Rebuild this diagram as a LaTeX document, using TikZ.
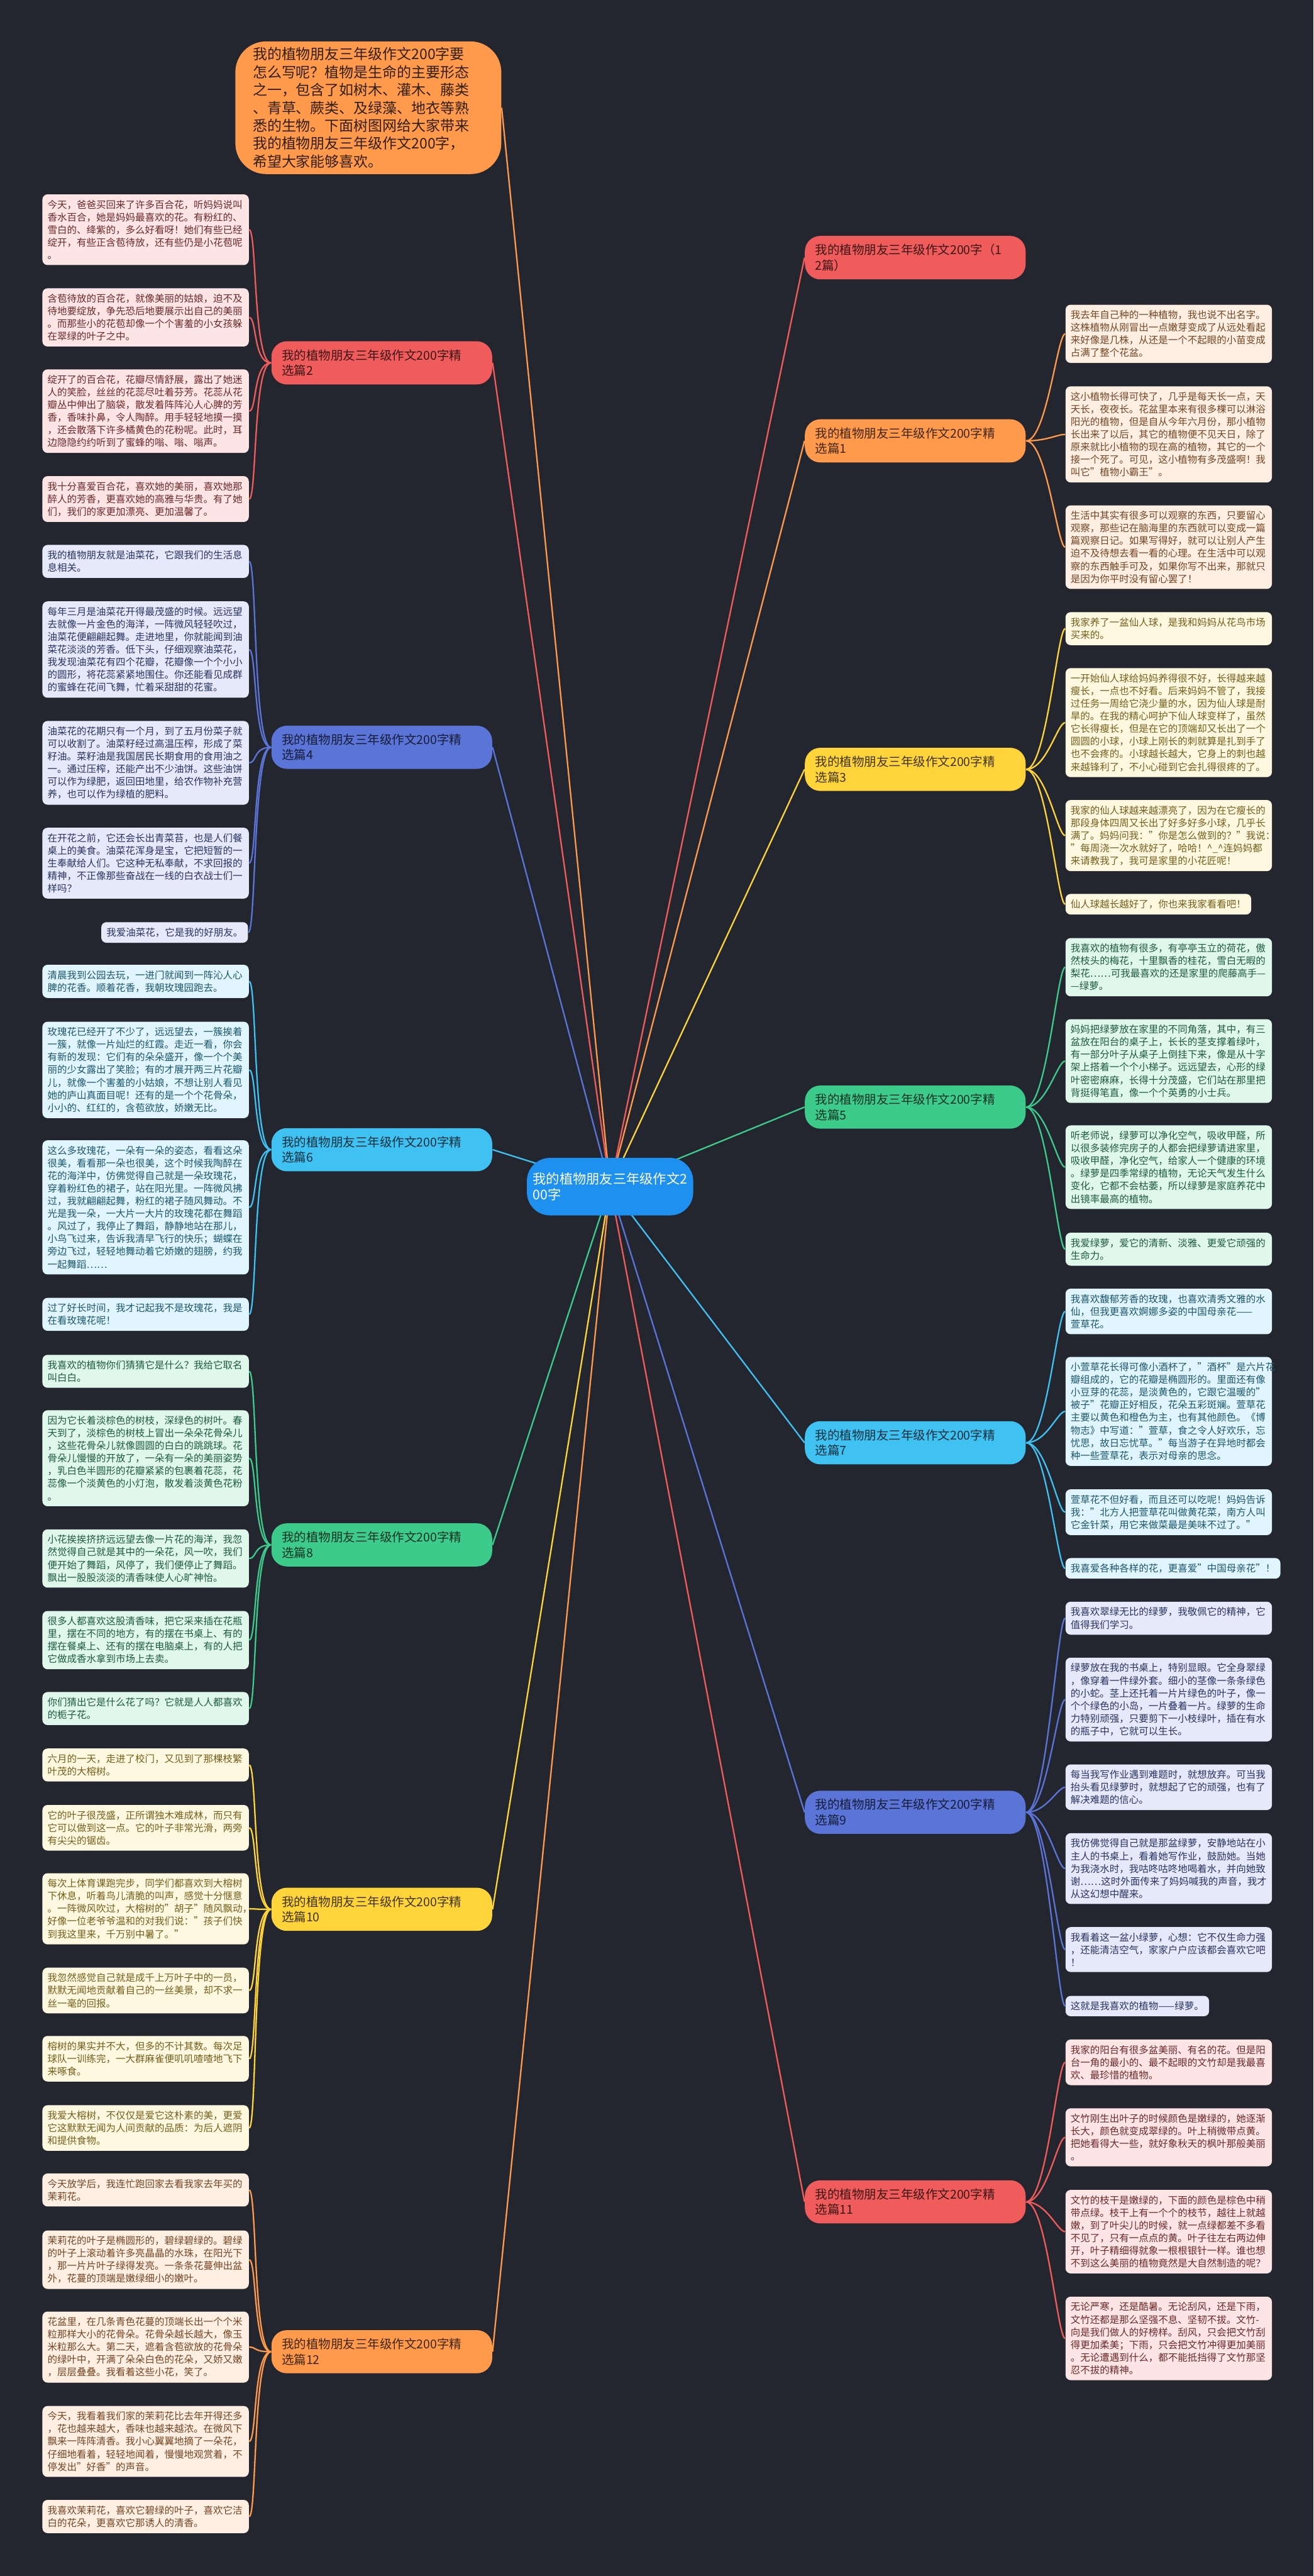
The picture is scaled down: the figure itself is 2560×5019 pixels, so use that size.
\documentclass[tikz,border=0pt]{standalone}
\usepackage{fontspec}
\setmainfont{Noto Sans CJK SC}
\usetikzlibrary{calc}
\pgfdeclarelayer{back}
\pgfsetlayers{back,main}

\definecolor{bgdark}{HTML}{23262F}
\definecolor{cred}{HTML}{F05B5B}
\definecolor{corange}{HTML}{FF9A4D}
\definecolor{cyellow}{HTML}{FFD43B}
\definecolor{cgreen}{HTML}{3DCB8B}
\definecolor{cblue}{HTML}{3FC1F2}
\definecolor{cindigo}{HTML}{5B74D8}
\definecolor{ccenter}{HTML}{1E90F0}

\newcommand\leaffont{\fontsize{5.4pt}{7.0pt}\selectfont}
\newcommand\branchfont{\fontsize{6.8pt}{8.5pt}\selectfont}

\tikzset{
	leaf/.style={fill=#1!16!white, text=#1!45!black, rounded corners=0.1cm,
		inner xsep=0.1cm, inner ysep=0.11cm, align=left, font=\leaffont},
	wide/.style={text width=3.82cm},
	branch/.style={fill=#1, text=#1!25!black, rounded corners=0.3cm,
		inner xsep=0.2cm, inner ysep=0.16cm, text width=3.9cm, align=left, font=\branchfont},
	link/.style={draw=#1, line width=0.8pt},
}

\begin{document}
\begin{tikzpicture}[x=0.01cm, y=-0.01cm]
	\begin{pgfonlayer}{back}
		\fill[bgdark] (0,0) rectangle (2560,5019);
	\end{pgfonlayer}
	\useasboundingbox (0,0) rectangle (2560,5019);

	% centre and intro
	\node[fill=ccenter, text=white, rounded corners=0.45cm, minimum width=3.14cm, minimum height=1.12cm,
		align=left, font=\fontsize{7.4pt}{9pt}\selectfont] (ctr) at (1189,2312) {我的植物朋友三年级作文2\\00字};
	\node[fill=corange, text=corange!20!black, rounded corners=0.6cm, anchor=north west, text width=4.5cm,
		minimum height=2.56cm, inner xsep=0.34cm, align=left, font=\fontsize{8pt}{9.9pt}\selectfont] (intro) at (458,80)
		{我的植物朋友三年级作文200字要\\怎么写呢？植物是生命的主要形态\\之一，包含了如树木、灌木、藤类\\、青草、蕨类、及绿藻、地衣等熟\\悉的生物。下面树图网给大家带来\\我的植物朋友三年级作文200字，\\希望大家能够喜欢。};

	% branches, right side
	\node[branch=cred, anchor=west] (b0) at (1568,502) {我的植物朋友三年级作文200字（1\\2篇）};
	\node[branch=corange, anchor=west] (b1) at (1568,859) {我的植物朋友三年级作文200字精\\选篇1};
	\node[branch=cyellow, anchor=west] (b3) at (1568,1499) {我的植物朋友三年级作文200字精\\选篇3};
	\node[branch=cgreen, anchor=west] (b5) at (1568,2157) {我的植物朋友三年级作文200字精\\选篇5};
	\node[branch=cblue, anchor=west] (b7) at (1568,2811) {我的植物朋友三年级作文200字精\\选篇7};
	\node[branch=cindigo, anchor=west] (b9) at (1568,3531) {我的植物朋友三年级作文200字精\\选篇9};
	\node[branch=cred, anchor=west] (b11) at (1568,4290) {我的植物朋友三年级作文200字精\\选篇11};
	% branches, left side
	\node[branch=cred, anchor=east] (b2) at (960,707) {我的植物朋友三年级作文200字精\\选篇2};
	\node[branch=cindigo, anchor=east] (b4) at (960,1456) {我的植物朋友三年级作文200字精\\选篇4};
	\node[branch=cblue, anchor=east] (b6) at (960,2240) {我的植物朋友三年级作文200字精\\选篇6};
	\node[branch=cgreen, anchor=east] (b8) at (960,3010) {我的植物朋友三年级作文200字精\\选篇8};
	\node[branch=cyellow, anchor=east] (b10) at (960,3720) {我的植物朋友三年级作文200字精\\选篇10};
	\node[branch=corange, anchor=east] (b12) at (960,4582) {我的植物朋友三年级作文200字精\\选篇12};

	% leaves of 2
	\node[leaf=cred, wide, anchor=north west] (l2a) at (82,378) {今天，爸爸买回来了许多百合花，听妈妈说叫\\香水百合，她是妈妈最喜欢的花。有粉红的、\\雪白的、绛紫的，多么好看呀！她们有些已经\\绽开，有些正含苞待放，还有些仍是小花苞呢\\。};
	\node[leaf=cred, wide, anchor=north west] (l2b) at (82,561) {含苞待放的百合花，就像美丽的姑娘，迫不及\\待地要绽放，争先恐后地要展示出自己的美丽\\。而那些小的花苞却像一个个害羞的小女孩躲\\在翠绿的叶子之中。};
	\node[leaf=cred, wide, anchor=north west] (l2c) at (82,719) {绽开了的百合花，花瓣尽情舒展，露出了她迷\\人的笑脸，丝丝的花蕊尽吐着芬芳。花蕊从花\\瓣丛中伸出了脑袋，散发着阵阵沁人心脾的芳\\香，香味扑鼻，令人陶醉。用手轻轻地摸一摸\\，还会散落下许多橘黄色的花粉呢。此时，耳\\边隐隐约约听到了蜜蜂的嗡、嗡、嗡声。};
	\node[leaf=cred, wide, anchor=north west] (l2d) at (82,927) {我十分喜爱百合花，喜欢她的美丽，喜欢她那\\醉人的芳香，更喜欢她的高雅与华贵。有了她\\们，我们的家更加漂亮、更加温馨了。};
	% leaves of 4
	\node[leaf=cindigo, wide, anchor=north west] (l4a) at (82,1061) {我的植物朋友就是油菜花，它跟我们的生活息\\息相关。};
	\node[leaf=cindigo, wide, anchor=north west] (l4b) at (82,1171) {每年三月是油菜花开得最茂盛的时候。远远望\\去就像一片金色的海洋，一阵微风轻轻吹过，\\油菜花便翩翩起舞。走进地里，你就能闻到油\\菜花淡淡的芳香。低下头，仔细观察油菜花，\\我发现油菜花有四个花瓣，花瓣像一个个小小\\的圆形，将花蕊紧紧地围住。你还能看见成群\\的蜜蜂在花间飞舞，忙着采甜甜的花蜜。};
	\node[leaf=cindigo, wide, anchor=north west] (l4c) at (82,1404) {油菜花的花期只有一个月，到了五月份菜子就\\可以收割了。油菜籽经过高温压榨，形成了菜\\籽油。菜籽油是我国居民长期食用的食用油之\\一。通过压榨，还能产出不少油饼。这些油饼\\可以作为绿肥，返回田地里，给农作物补充营\\养，也可以作为绿植的肥料。};
	\node[leaf=cindigo, wide, anchor=north west] (l4d) at (82,1612) {在开花之前，它还会长出青菜苔，也是人们餐\\桌上的美食。油菜花浑身是宝，它把短暂的一\\生奉献给人们。它这种无私奉献，不求回报的\\精神，不正像那些奋战在一线的白衣战士们一\\样吗？};
	\node[leaf=cindigo, anchor=north east] (l4e) at (484,1796) {我爱油菜花，它是我的好朋友。};
	% leaves of 6
	\node[leaf=cblue, wide, anchor=north west] (l6a) at (82,1879) {清晨我到公园去玩，一进门就闻到一阵沁人心\\脾的花香。顺着花香，我朝玫瑰园跑去。};
	\node[leaf=cblue, wide, anchor=north west] (l6b) at (82,1990) {玫瑰花已经开了不少了，远远望去，一簇挨着\\一簇，就像一片灿烂的红霞。走近一看，你会\\有新的发现：它们有的朵朵盛开，像一个个美\\丽的少女露出了笑脸；有的才展开两三片花瓣\\儿，就像一个害羞的小姑娘，不想让别人看见\\她的庐山真面目呢！还有的是一个个花骨朵，\\小小的、红红的，含苞欲放，娇嫩无比。};
	\node[leaf=cblue, wide, anchor=north west] (l6c) at (82,2221) {这么多玫瑰花，一朵有一朵的姿态，看看这朵\\很美，看看那一朵也很美，这个时候我陶醉在\\花的海洋中，仿佛觉得自己就是一朵玫瑰花，\\穿着粉红色的裙子，站在阳光里。一阵微风拂\\过，我就翩翩起舞，粉红的裙子随风舞动。不\\光是我一朵，一大片一大片的玫瑰花都在舞蹈\\。风过了，我停止了舞蹈，静静地站在那儿，\\小鸟飞过来，告诉我清早飞行的快乐；蝴蝶在\\旁边飞过，轻轻地舞动着它娇嫩的翅膀，约我\\一起舞蹈……};
	\node[leaf=cblue, wide, anchor=north west] (l6d) at (82,2528) {过了好长时间，我才记起我不是玫瑰花，我是\\在看玫瑰花呢！};
	% leaves of 8
	\node[leaf=cgreen, wide, anchor=north west] (l8a) at (82,2639) {我喜欢的植物你们猜猜它是什么？我给它取名\\叫白白。};
	\node[leaf=cgreen, wide, anchor=north west] (l8b) at (82,2747) {因为它长着淡棕色的树枝，深绿色的树叶。春\\天到了，淡棕色的树枝上冒出一朵朵花骨朵儿\\，这些花骨朵儿就像圆圆的白白的跳跳球。花\\骨朵儿慢慢的开放了，一朵有一朵的美丽姿势\\，乳白色半圆形的花瓣紧紧的包裹着花蕊，花\\蕊像一个淡黄色的小灯泡，散发着淡黄色花粉\\。};
	\node[leaf=cgreen, wide, anchor=north west] (l8c) at (82,2979) {小花挨挨挤挤远远望去像一片花的海洋，我忽\\然觉得自己就是其中的一朵花，风一吹，我们\\便开始了舞蹈，风停了，我们便停止了舞蹈。\\飘出一股股淡淡的清香味使人心旷神怡。};
	\node[leaf=cgreen, wide, anchor=north west] (l8d) at (82,3138) {很多人都喜欢这股清香味，把它采来插在花瓶\\里，摆在不同的地方，有的摆在书桌上、有的\\摆在餐桌上、还有的摆在电脑桌上，有的人把\\它做成香水拿到市场上去卖。};
	\node[leaf=cgreen, wide, anchor=north west] (l8e) at (82,3296) {你们猜出它是什么花了吗？它就是人人都喜欢\\的栀子花。};
	% leaves of 10
	\node[leaf=cyellow, wide, anchor=north west] (l10a) at (82,3406) {六月的一天，走进了校门，又见到了那棵枝繁\\叶茂的大榕树。};
	\node[leaf=cyellow, wide, anchor=north west] (l10b) at (82,3516) {它的叶子很茂盛，正所谓独木难成林，而只有\\它可以做到这一点。它的叶子非常光滑，两旁\\有尖尖的锯齿。};
	\node[leaf=cyellow, wide, anchor=north west] (l10c) at (82,3649) {每次上体育课跑完步，同学们都喜欢到大榕树\\下休息，听着鸟儿清脆的叫声，感觉十分惬意\\。一阵微风吹过，大榕树的"胡子"随风飘动，\\好像一位老爷爷温和的对我们说："孩子们快\\到我这里来，千万别中暑了。"};
	\node[leaf=cyellow, wide, anchor=north west] (l10d) at (82,3833) {我忽然感觉自己就是成千上万叶子中的一员，\\默默无闻地贡献着自己的一丝美景，却不求一\\丝一毫的回报。};
	\node[leaf=cyellow, wide, anchor=north west] (l10e) at (82,3966) {榕树的果实并不大，但多的不计其数。每次足\\球队一训练完，一大群麻雀便叽叽喳喳地飞下\\来啄食。};
	\node[leaf=cyellow, wide, anchor=north west] (l10f) at (82,4101) {我爱大榕树，不仅仅是爱它这朴素的美，更爱\\它这默默无闻为人间贡献的品质：为后人遮阴\\和提供食物。};
	% leaves of 12
	\node[leaf=corange, wide, anchor=north west] (l12a) at (82,4234) {今天放学后，我连忙跑回家去看我家去年买的\\茉莉花。};
	\node[leaf=corange, wide, anchor=north west] (l12b) at (82,4345) {茉莉花的叶子是椭圆形的，碧绿碧绿的。碧绿\\的叶子上滚动着许多亮晶晶的水珠，在阳光下\\，那一片片叶子绿得发亮。一条条花蔓伸出盆\\外，花蔓的顶端是嫩绿细小的嫩叶。};
	\node[leaf=corange, wide, anchor=north west] (l12c) at (82,4503) {花盆里，在几条青色花蔓的顶端长出一个个米\\粒那样大小的花骨朵。花骨朵越长越大，像玉\\米粒那么大。第二天，遮着含苞欲放的花骨朵\\的绿叶中，开满了朵朵白色的花朵，又娇又嫩\\，层层叠叠。我看着这些小花，笑了。};
	\node[leaf=corange, wide, anchor=north west] (l12d) at (82,4687) {今天，我看着我们家的茉莉花比去年开得还多\\，花也越来越大，香味也越来越浓。在微风下\\飘来一阵阵清香。我小心翼翼地摘了一朵花，\\仔细地看着，轻轻地闻着，慢慢地观赏着，不\\停发出"好香"的声音。};
	\node[leaf=corange, wide, anchor=north west] (l12e) at (82,4870) {我喜欢茉莉花，喜欢它碧绿的叶子，喜欢它洁\\白的花朵，更喜欢它那诱人的清香。};

	% leaves of 1
	\node[leaf=corange, wide, anchor=north west] (r1a) at (2076,593) {我去年自己种的一种植物，我也说不出名字。\\这株植物从刚冒出一点嫩芽变成了从远处看起\\来好像是几株，从还是一个不起眼的小苗变成\\占满了整个花盆。};
	\node[leaf=corange, wide, anchor=north west] (r1b) at (2076,752) {这小植物长得可快了，几乎是每天长一点，天\\天长，夜夜长。花盆里本来有很多棵可以淋浴\\阳光的植物，但是自从今年六月份，那小植物\\长出来了以后，其它的植物便不见天日，除了\\原来就比小植物的现在高的植物，其它的一个\\接一个死了。可见，这小植物有多茂盛啊！我\\叫它"植物小霸王"。};
	\node[leaf=corange, wide, anchor=north west] (r1c) at (2076,984) {生活中其实有很多可以观察的东西，只要留心\\观察，那些记在脑海里的东西就可以变成一篇\\篇观察日记。如果写得好，就可以让别人产生\\迫不及待想去看一看的心理。在生活中可以观\\察的东西触手可及，如果你写不出来，那就只\\是因为你平时没有留心罢了！};
	% leaves of 3
	\node[leaf=cyellow, wide, anchor=north west] (r3a) at (2076,1192) {我家养了一盆仙人球，是我和妈妈从花鸟市场\\买来的。};
	\node[leaf=cyellow, wide, anchor=north west] (r3b) at (2076,1301) {一开始仙人球给妈妈养得很不好，长得越来越\\瘦长，一点也不好看。后来妈妈不管了，我接\\过任务一周给它浇少量的水，因为仙人球是耐\\旱的。在我的精心呵护下仙人球变样了，虽然\\它长得瘦长，但是在它的顶端却又长出了一个\\圆圆的小球，小球上刚长的刺就算是扎到手了\\也不会疼的。小球越长越大，它身上的刺也越\\来越锋利了，不小心碰到它会扎得很疼的了。};
	\node[leaf=cyellow, wide, anchor=north west] (r3c) at (2076,1558) {我家的仙人球越来越漂亮了，因为在它瘦长的\\那段身体四周又长出了好多好多小球，几乎长\\满了。妈妈问我："你是怎么做到的？"我说：\\"每周浇一次水就好了，哈哈！\textasciicircum\_\textasciicircum 连妈妈都\\来请教我了，我可是家里的小花匠呢！};
	\node[leaf=cyellow, anchor=north west] (r3d) at (2076,1741) {仙人球越长越好了，你也来我家看看吧！};
	% leaves of 5
	\node[leaf=cgreen, wide, anchor=north west] (r5a) at (2076,1827) {我喜欢的植物有很多，有亭亭玉立的荷花，傲\\然枝头的梅花，十里飘香的桂花，雪白无暇的\\梨花……可我最喜欢的还是家里的爬藤高手—\\—绿萝。};
	\node[leaf=cgreen, wide, anchor=north west] (r5b) at (2076,1985) {妈妈把绿萝放在家里的不同角落，其中，有三\\盆放在阳台的桌子上，长长的茎支撑着绿叶，\\有一部分叶子从桌子上倒挂下来，像是从十字\\架上搭着一个个小梯子。远远望去，心形的绿\\叶密密麻麻，长得十分茂盛，它们站在那里把\\背挺得笔直，像一个个英勇的小士兵。};
	\node[leaf=cgreen, wide, anchor=north west] (r5c) at (2076,2192) {听老师说，绿萝可以净化空气，吸收甲醛，所\\以很多装修完房子的人都会把绿萝请进家里，\\吸收甲醛，净化空气，给家人一个健康的环境\\。绿萝是四季常绿的植物，无论天气发生什么\\变化，它都不会枯萎，所以绿萝是家庭养花中\\出镜率最高的植物。};
	\node[leaf=cgreen, wide, anchor=north west] (r5d) at (2076,2401) {我爱绿萝，爱它的清新、淡雅、更爱它顽强的\\生命力。};
	% leaves of 7
	\node[leaf=cblue, wide, anchor=north west] (r7a) at (2076,2510) {我喜欢馥郁芳香的玫瑰，也喜欢清秀文雅的水\\仙，但我更喜欢婀娜多姿的中国母亲花——\\萱草花。};
	\node[leaf=cblue, wide, anchor=north west] (r7b) at (2076,2643) {小萱草花长得可像小酒杯了，"酒杯"是六片花\\瓣组成的，它的花瓣是椭圆形的。里面还有像\\小豆芽的花蕊，是淡黄色的，它跟它温暖的"\\被子"花瓣正好相反，花朵五彩斑斓。萱草花\\主要以黄色和橙色为主，也有其他颜色。《博\\物志》中写道："萱草，食之令人好欢乐，忘\\忧思，故日忘忧草。"每当游子在异地时都会\\种一些萱草花，表示对母亲的思念。};
	\node[leaf=cblue, wide, anchor=north west] (r7c) at (2076,2901) {萱草花不但好看，而且还可以吃呢！妈妈告诉\\我："北方人把萱草花叫做黄花菜，南方人叫\\它金针菜，用它来做菜最是美味不过了。"};
	\node[leaf=cblue, anchor=north west] (r7d) at (2076,3035) {我喜爱各种各样的花，更喜爱"中国母亲花"！};
	% leaves of 9
	\node[leaf=cindigo, wide, anchor=north west] (r9a) at (2076,3120) {我喜欢翠绿无比的绿萝，我敬佩它的精神，它\\值得我们学习。};
	\node[leaf=cindigo, wide, anchor=north west] (r9b) at (2076,3229) {绿萝放在我的书桌上，特别显眼。它全身翠绿\\，像穿着一件绿外套。细小的茎像一条条绿色\\的小蛇。茎上还托着一片片绿色的叶子，像一\\个个绿色的小岛，一片叠着一片。绿萝的生命\\力特别顽强，只要剪下一小枝绿叶，插在有水\\的瓶子中，它就可以生长。};
	\node[leaf=cindigo, wide, anchor=north west] (r9c) at (2076,3437) {每当我写作业遇到难题时，就想放弃。可当我\\抬头看见绿萝时，就想起了它的顽强，也有了\\解决难题的信心。};
	\node[leaf=cindigo, wide, anchor=north west] (r9d) at (2076,3571) {我仿佛觉得自己就是那盆绿萝，安静地站在小\\主人的书桌上，看着她写作业，鼓励她。当她\\为我浇水时，我咕咚咕咚地喝着水，并向她致\\谢……这时外面传来了妈妈喊我的声音，我才\\从这幻想中醒来。};
	\node[leaf=cindigo, wide, anchor=north west] (r9e) at (2076,3754) {我看着这一盆小绿萝，心想：它不仅生命力强\\，还能清洁空气，家家户户应该都会喜欢它吧\\！};
	\node[leaf=cindigo, anchor=north west] (r9f) at (2076,3888) {这就是我喜欢的植物——绿萝。};
	% leaves of 11
	\node[leaf=cred, wide, anchor=north west] (r11a) at (2076,3973) {我家的阳台有很多盆美丽、有名的花。但是阳\\台一角的最小的、最不起眼的文竹却是我最喜\\欢、最珍惜的植物。};
	\node[leaf=cred, wide, anchor=north west] (r11b) at (2076,4107) {文竹刚生出叶子的时候颜色是嫩绿的，她逐渐\\长大，颜色就变成翠绿的。叶上稍微带点黄。\\把她看得大一些，就好象秋天的枫叶那般美丽\\。};
	\node[leaf=cred, wide, anchor=north west] (r11c) at (2076,4266) {文竹的枝干是嫩绿的，下面的颜色是棕色中稍\\带点绿。枝干上有一个个的枝节，越往上就越\\嫩，到了叶尖儿的时候，就一点绿都差不多看\\不见了，只有一点点的黄。叶子往左右两边伸\\开，叶子精细得就象一根根银针一样。谁也想\\不到这么美丽的植物竟然是大自然制造的呢？};
	\node[leaf=cred, wide, anchor=north west] (r11d) at (2076,4474) {无论严寒，还是酷暑。无论刮风，还是下雨，\\文竹还都是那么坚强不息、坚韧不拔。文竹-\\向是我们做人的好榜样。刮风，只会把文竹刮\\得更加柔美；下雨，只会把文竹冲得更加美丽\\。无论遭遇到什么，都不能抵挡得了文竹那坚\\忍不拔的精神。};

	\begin{pgfonlayer}{back}
		% centre to intro and branches
		\draw[link=corange] (ctr.center) .. controls ($(ctr.center)!0.15!(intro.east)$ |- intro.east) .. (intro.east);
		\foreach \b/\c in {b0/cred, b1/corange, b3/cyellow, b5/cgreen, b7/cblue, b9/cindigo, b11/cred}
			\draw[link=\c] (ctr.center) .. controls ($(ctr.center)!0.15!(\b.west)$ |- \b.west) .. (\b.west);
		\foreach \b/\c in {b2/cred, b4/cindigo, b6/cblue, b8/cgreen, b10/cyellow, b12/corange}
			\draw[link=\c] (ctr.center) .. controls ($(ctr.center)!0.15!(\b.east)$ |- \b.east) .. (\b.east);
		% branches to leaves
		\foreach \l in {a,b,c,d} \draw[link=cred] (b2.west) .. controls +(-35,0) and +(15,0) .. (l2\l.east);
		\foreach \l in {a,b,c,d,e} \draw[link=cindigo] (b4.west) .. controls +(-35,0) and +(15,0) .. (l4\l.east);
		\foreach \l in {a,b,c,d} \draw[link=cblue] (b6.west) .. controls +(-35,0) and +(15,0) .. (l6\l.east);
		\foreach \l in {a,b,c,d,e} \draw[link=cgreen] (b8.west) .. controls +(-35,0) and +(15,0) .. (l8\l.east);
		\foreach \l in {a,b,c,d,e,f} \draw[link=cyellow] (b10.west) .. controls +(-35,0) and +(15,0) .. (l10\l.east);
		\foreach \l in {a,b,c,d,e} \draw[link=corange] (b12.west) .. controls +(-35,0) and +(15,0) .. (l12\l.east);
		\foreach \l in {a,b,c} \draw[link=corange] (b1.east) .. controls +(40,0) and +(-15,0) .. (r1\l.west);
		\foreach \l in {a,b,c,d} \draw[link=cyellow] (b3.east) .. controls +(40,0) and +(-15,0) .. (r3\l.west);
		\foreach \l in {a,b,c,d} \draw[link=cgreen] (b5.east) .. controls +(40,0) and +(-15,0) .. (r5\l.west);
		\foreach \l in {a,b,c,d} \draw[link=cblue] (b7.east) .. controls +(40,0) and +(-15,0) .. (r7\l.west);
		\foreach \l in {a,b,c,d,e,f} \draw[link=cindigo] (b9.east) .. controls +(40,0) and +(-15,0) .. (r9\l.west);
		\foreach \l in {a,b,c,d} \draw[link=cred] (b11.east) .. controls +(40,0) and +(-15,0) .. (r11\l.west);
	\end{pgfonlayer}
\end{tikzpicture}
\end{document}
